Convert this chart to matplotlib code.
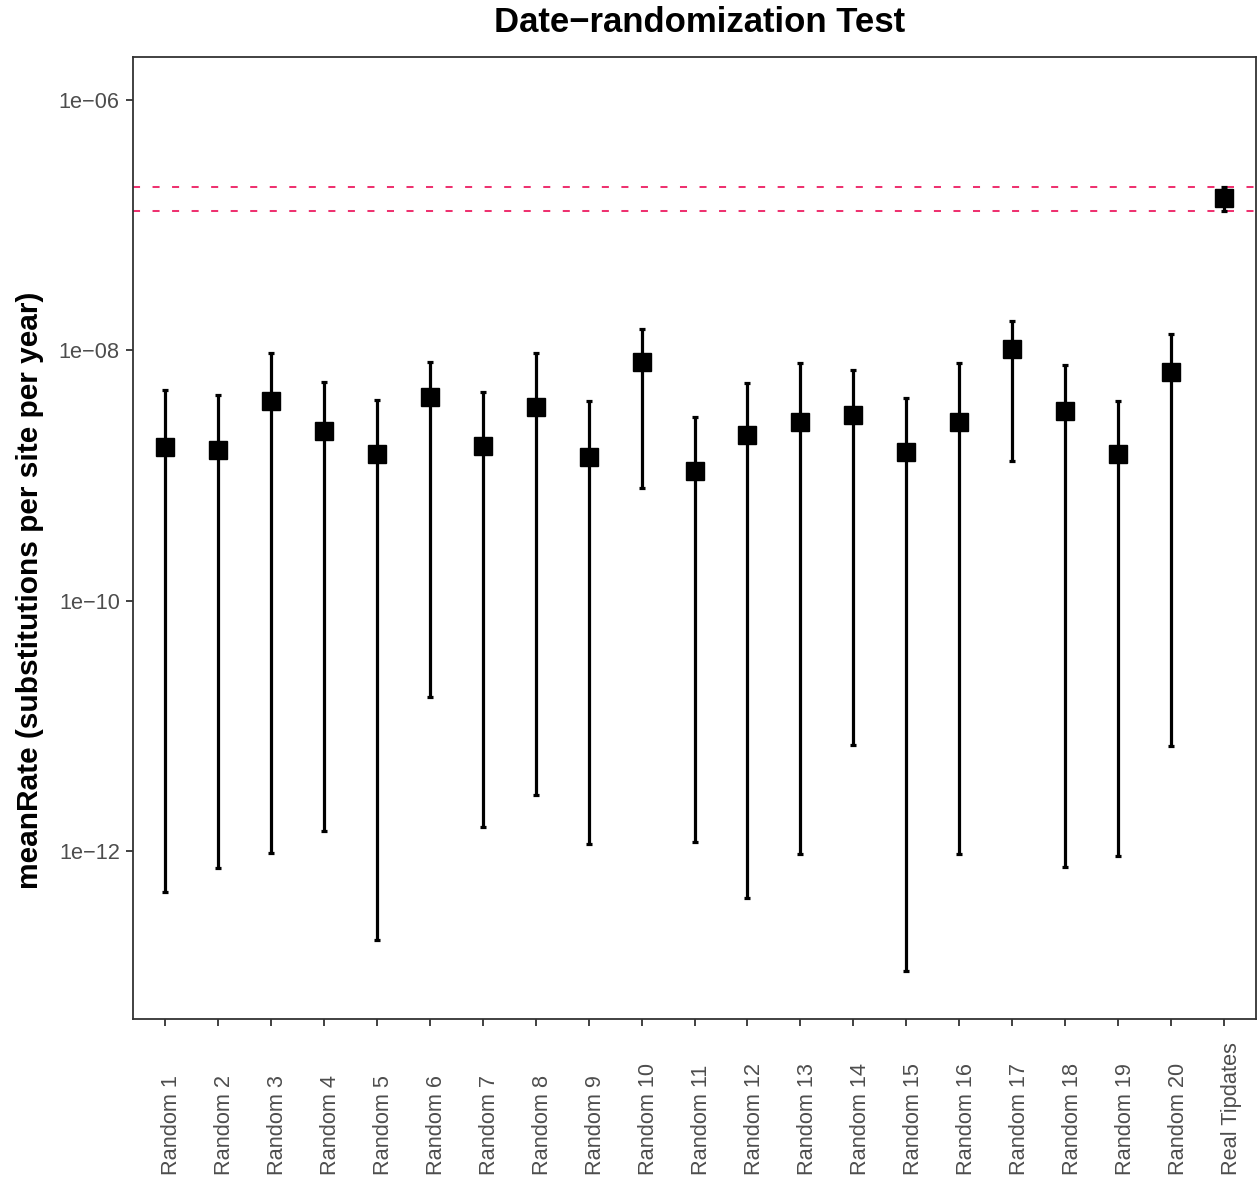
import numpy as np
import matplotlib
matplotlib.use("Agg")
import matplotlib.pyplot as plt
from matplotlib.ticker import NullLocator
from matplotlib.transforms import ScaledTranslation

plt.rcParams['font.family'] = ['Liberation Sans', 'DejaVu Sans']

# ---------- data ----------
runs = ["Random 1", "Random 2", "Random 3", "Random 4", "Random 5",
        "Random 6", "Random 7", "Random 8", "Random 9", "Random 10",
        "Random 11", "Random 12", "Random 13", "Random 14", "Random 15",
        "Random 16", "Random 17", "Random 18", "Random 19", "Random 20",
        "Real Tipdates"]
mean_rate = [1.70e-9, 1.61e-9, 3.95e-9, 2.28e-9, 1.49e-9,
             4.26e-9, 1.73e-9, 3.54e-9, 1.41e-9, 8.09e-9,
             1.09e-9, 2.11e-9, 2.69e-9, 3.05e-9, 1.55e-9,
             2.69e-9, 1.03e-8, 3.29e-9, 1.49e-9, 6.73e-9,
             1.65e-7]
hpd_upper = [4.84e-9, 4.41e-9, 9.55e-9, 5.61e-9, 4.03e-9,
             8.09e-9, 4.67e-9, 9.55e-9, 3.95e-9, 1.49e-8,
             2.94e-9, 5.50e-9, 7.94e-9, 6.98e-9, 4.18e-9,
             7.94e-9, 1.72e-8, 7.66e-9, 3.95e-9, 1.35e-8,
             2.02e-7]
hpd_lower = [4.75e-13, 7.38e-13, 9.73e-13, 1.46e-12, 1.96e-13,
             1.71e-11, 1.57e-12, 2.83e-12, 1.15e-12, 7.98e-10,
             1.19e-12, 4.26e-13, 9.55e-13, 7.08e-12, 1.11e-13,
             9.55e-13, 1.31e-9, 7.52e-13, 9.20e-13, 6.95e-12,
             1.30e-7]
ytick_vals = [1e-12, 1e-10, 1e-8, 1e-6]
ytick_text = ["1e\u221212", "1e\u221210", "1e\u221208", "1e\u221206"]

W, H = 1257, 1182
fig = plt.figure(figsize=(W / 100, H / 100), dpi=100)
ax = fig.add_axes([133 / W, 163 / H, 1123 / W, 962 / H])

x = np.arange(len(runs))
mean = np.array(mean_rate)
yerr = [mean - np.array(hpd_lower), np.array(hpd_upper) - mean]

# real tip-date interval as reference lines
for v in (hpd_upper[-1], hpd_lower[-1]):
    ax.axhline(v, color='#EE3270', lw=1.45, dashes=(3.5, 6.2), zorder=2)

ax.errorbar(x, mean, yerr=yerr, fmt='none', ecolor='black',
            elinewidth=2.3, capsize=2.2, capthick=2.3, zorder=3)
ax.plot(x, mean, 's', ms=13.5, color='black', zorder=4)

ax.set_yscale('log')
ax.set_ylim(10 ** -13.341, 10 ** -5.657)
ax.set_xlim(-0.6, len(runs) - 0.4)
ax.yaxis.set_minor_locator(NullLocator())
ax.set_yticks(ytick_vals)
ax.set_yticklabels(ytick_text)
ax.set_xticks(x)
ax.set_xticklabels(runs, rotation=90, va='bottom', ha='center')

for s in ax.spines.values():
    s.set_color('#333333')
    s.set_linewidth(1.3)
ax.tick_params(axis='both', direction='out', length=5, width=1.3,
               color='#333333', labelcolor='#4D4D4D', labelsize=15.7)
ax.tick_params(axis='y', pad=4.5)
ax.tick_params(axis='x', pad=107.3)
shift = ScaledTranslation(7 / 100, 0, fig.dpi_scale_trans)
for lbl in ax.get_xticklabels():
    lbl.set_transform(lbl.get_transform() + shift)

fig.text(700 / W, 1 - 23 / H, "Date\u2212randomization Test", ha='center',
         va='center', fontsize=25, fontweight='bold')
fig.text(30 / W, 1 - 590 / H, "meanRate (substitutions per site per year)",
         rotation=90, ha='center', va='center', fontsize=21.5, fontweight='bold')

fig.savefig("out.png", dpi=100, facecolor='white')
